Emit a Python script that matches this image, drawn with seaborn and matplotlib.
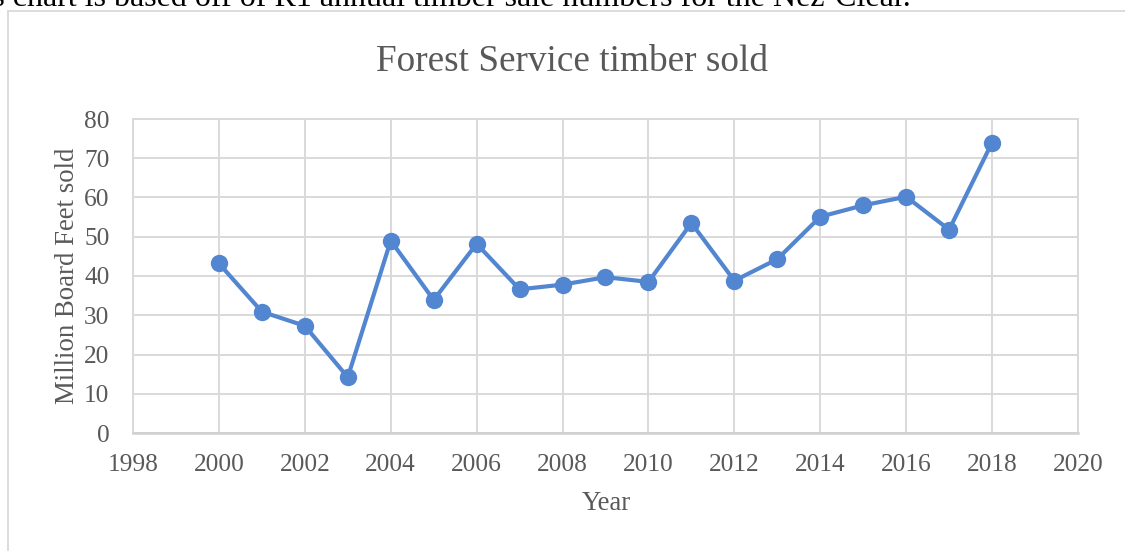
import matplotlib
matplotlib.use("Agg")
import matplotlib.pyplot as plt
import seaborn as sns
import pandas as pd
from matplotlib.lines import Line2D

years = [2000, 2001, 2002, 2003, 2004, 2005, 2006, 2007, 2008, 2009,
         2010, 2011, 2012, 2013, 2014, 2015, 2016, 2017, 2018]
mbf_sold = [43.2, 30.9, 27.3, 14.2, 49.0, 33.9, 48.2, 36.6, 37.8, 39.7,
            38.5, 53.5, 38.8, 44.3, 55.1, 58.0, 60.2, 51.8, 74.0]
x_ticks = list(range(1998, 2021, 2))
y_ticks = list(range(0, 81, 10))

title = "Forest Service timber sold"
x_label = "Year"
y_label = "Million Board Feet sold"
caption = "This chart is based off of R1 annual timber sale numbers for the Nez-Clear."

df = pd.DataFrame({"Year": years, "MBF": mbf_sold})

sns.set_theme(style="white")
plt.rcParams["font.family"] = ["Liberation Serif", "DejaVu Serif"]

W, H, DPI = 1125, 551, 100
fig = plt.figure(figsize=(W / DPI, H / DPI), dpi=DPI)
fig.patch.set_facecolor("white")

def fx(px):
    return px / W

def fy(py):
    return 1 - py / H

ax = fig.add_axes([fx(133), fy(433), fx(1078) - fx(133), fy(119) - fy(433)])

grid_c = "#d9d9d9"
text_c = "#595959"
line_c = "#5386d0"

sns.lineplot(data=df, x="Year", y="MBF", ax=ax, color=line_c, linewidth=3.0,
             marker="o", markersize=12.5, markeredgewidth=0, zorder=3)

ax.set_xlim(1998, 2020)
ax.set_ylim(0, 80)
ax.set_xticks(x_ticks)
ax.set_yticks(y_ticks)
ax.grid(True, color=grid_c, linewidth=1.4)
ax.set_axisbelow(True)
for s in ax.spines.values():
    s.set_color(grid_c)
    s.set_linewidth(1.4)
ax.spines["bottom"].set_color("#d0d0d0")
ax.spines["bottom"].set_linewidth(1.8)
ax.tick_params(axis="both", length=0, colors=text_c, labelsize=18.3)
ax.tick_params(axis="x", pad=15)
ax.tick_params(axis="y", pad=17)
ax.set_xlabel(x_label, fontsize=19.3, color=text_c, va="center")
ax.set_ylabel(y_label, fontsize=19.3, color=text_c, va="center")
ax.xaxis.set_label_coords((606 - 133) / 945, (433 - 503) / 314)
ax.yaxis.set_label_coords((67 - 133) / 945, (433 - 276) / 314)

fig.text(fx(572), fy(62), title, ha="center", va="center", fontsize=26.8, color=text_c)

# clipped caption from the surrounding document
fig.text(fx(-52), fy(6), caption, ha="left", va="baseline", fontsize=23, color="#000000")

# outer chart frame (partially visible)
fig.add_artist(Line2D([fx(8), fx(8)], [fy(11), fy(560)], color="#d9d9d9", linewidth=1.3,
                      transform=fig.transFigure))
fig.add_artist(Line2D([fx(8), fx(1130)], [fy(11), fy(11)], color="#d9d9d9", linewidth=1.3,
                      transform=fig.transFigure))

fig.savefig("out.png", dpi=DPI)
